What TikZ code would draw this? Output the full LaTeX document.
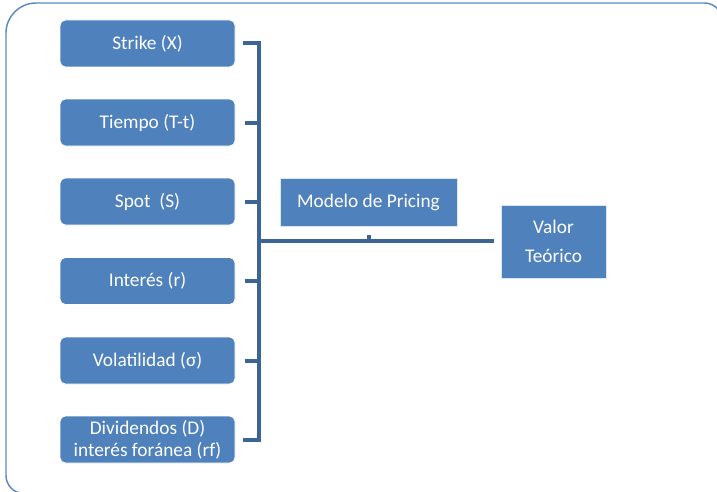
\documentclass[tikz,border=0pt]{standalone}
\usepackage{fontspec}
\setmainfont{Carlito}
\definecolor{boxblue}{HTML}{4F81BD}
\definecolor{linkblue}{HTML}{3C6494}
\definecolor{edgeblue}{HTML}{5B89C0}
\begin{document}
\begin{tikzpicture}[x=0.75pt,y=-0.75pt,
  inbox/.style={draw=white,line width=0.6pt,fill=boxblue,rounded corners=4pt,minimum width=131.25pt,minimum height=35.25pt,text=white,font=\fontsize{14.5}{16.5}\selectfont,align=center,inner sep=0pt},
  sqbox/.style={draw=white!80!boxblue,line width=0.6pt,fill=boxblue,text=white,font=\fontsize{14.5}{16.5}\selectfont,align=center,inner sep=0pt},
  link/.style={draw=linkblue,line width=3pt}]
\useasboundingbox (0,0) rectangle (717,492);
% outer frame
\draw[edgeblue,line width=1.1pt] (722,510) -- (722,20.5) arc[start angle=0,end angle=-90,radius=17.5] -- (36,3) arc[start angle=-90,end angle=-180,radius=30] -- (6,475.5) arc[start angle=180,end angle=90,radius=18] -- (730,493.5);
% input boxes
\node[inbox] (x) at (147.5,43.5) {Strike (X)};
\node[inbox] (t) at (147.5,122.5) {Tiempo (T-t)};
\node[inbox] (s) at (147.5,201.5) {Spot\ \ (S)};
\node[inbox] (r) at (147.5,281) {Interés (r)};
\node[inbox] (v) at (147.5,360.5) {Volatilidad (σ)};
\node[inbox] (d) at (147.5,439.5) {Dividendos (D)\\interés foránea (rf)};
% bracket
\coordinate (btop) at (259,43.5);
\coordinate (bbot) at (259,439.5);
\draw[link] ([xshift=-1.5pt]x.east -| 245,0) -- (btop) -- (bbot) -- ([xshift=-1.5pt]d.east -| 245,0);
\foreach \n in {t,s,r,v}{
  \draw[link] (\n.east -| 245,0) -- (\n.east -| btop);
}
% model and output
\node[sqbox,minimum width=132.75pt,minimum height=36pt] (m) at (368.5,202) {Modelo de Pricing};
\node[sqbox,minimum width=78.75pt,minimum height=54.75pt,font=\fontsize{14.5}{21.75}\selectfont] (o) at (553.5,241.5) {Valor\\Teórico};
\coordinate (hl) at (259,241);
\coordinate (hr) at (494,241);
\draw[link] (hl) -- (hr);
\draw[link] (hl -| m.south) -- ([yshift=4.5pt]hl -| m.south);
\end{tikzpicture}
\end{document}
